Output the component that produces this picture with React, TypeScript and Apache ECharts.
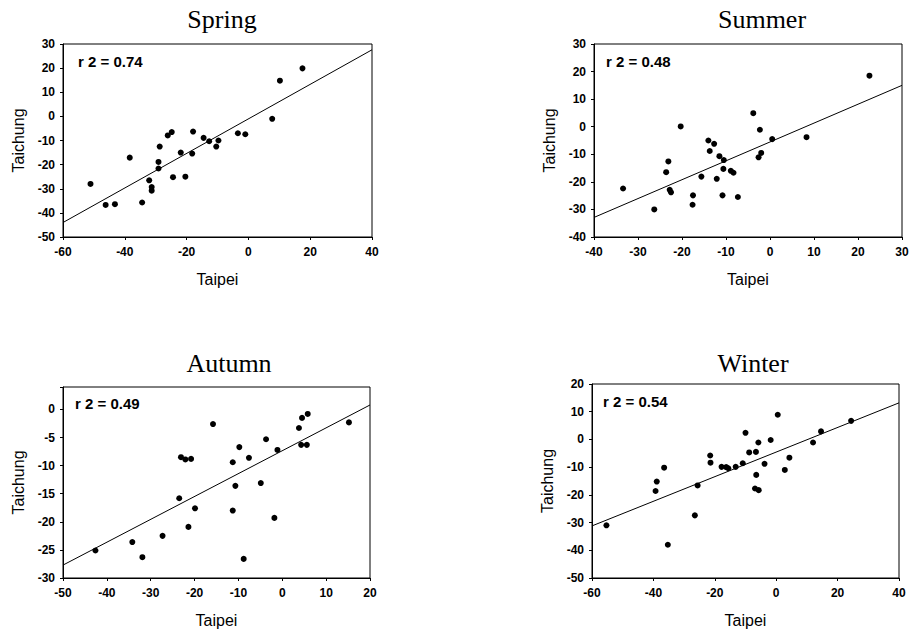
import React, { useEffect, useRef } from "react";
import * as echarts from "echarts";

// ---- Data ----
const springTaipei = [-51.1, -46.2, -43.2, -38.4, -34.4, -32.1, -31.3, -31.3, -29.1, -29.1, -28.7, -26.1, -24.8, -24.4, -21.9, -20.4, -18.2, -17.9, -14.5, -12.7, -10.4, -9.7, -3.4, -1.0, 7.7, 10.2, 17.5];
const springTaichung = [-28.0, -36.7, -36.4, -17.1, -35.7, -26.5, -29.3, -30.8, -18.9, -21.6, -12.5, -7.9, -6.5, -25.2, -15.0, -25.0, -15.4, -6.3, -8.9, -10.3, -12.5, -10.0, -7.0, -7.4, -1.0, 14.8, 19.9];
const springFitX = [-60, 40];
const springFitY = [-44.0, 27.6];

const summerTaipei = [-33.4, -26.3, -23.6, -23.1, -22.8, -22.5, -20.3, -17.5, -17.6, -15.6, -14.0, -13.7, -12.7, -12.1, -11.5, -10.5, -10.6, -10.8, -8.9, -8.3, -7.3, -3.8, -2.3, -2.6, -2.0, 0.5, 8.3, 22.6];
const summerTaichung = [-22.4, -30.0, -16.5, -12.6, -22.9, -23.8, 0.1, -24.9, -28.3, -18.1, -5.0, -8.8, -6.2, -18.9, -10.7, -12.1, -15.3, -24.9, -16.0, -16.7, -25.5, 4.9, -1.1, -11.1, -9.5, -4.5, -3.8, 18.5];
const summerFitX = [-40, 30];
const summerFitY = [-32.9, 15.0];

const autumnTaipei = [-42.6, -34.2, -31.9, -27.3, -23.5, -23.1, -22.1, -20.8, -21.4, -19.9, -15.8, -11.3, -11.3, -10.7, -9.8, -8.8, -7.6, -4.9, -3.7, -1.8, -1.1, 3.8, 4.5, 4.3, 5.8, 5.6, 15.2];
const autumnTaichung = [-25.1, -23.6, -26.3, -22.5, -15.8, -8.5, -8.9, -8.8, -20.9, -17.6, -2.6, -9.4, -18.0, -13.6, -6.7, -26.6, -8.6, -13.1, -5.3, -19.3, -7.2, -3.3, -1.5, -6.3, -0.8, -6.3, -2.3];
const autumnFitX = [-50, 20];
const autumnFitY = [-27.7, 0.8];

const winterTaipei = [-55.3, -39.3, -38.9, -36.5, -35.3, -26.5, -25.6, -21.5, -21.4, -17.8, -16.3, -15.6, -13.2, -10.9, -10.0, -8.8, -6.6, -5.8, -6.5, -6.9, -5.7, -3.8, -1.8, 0.5, 2.8, 4.3, 12.0, 14.6, 24.4];
const winterTaichung = [-31.0, -18.6, -15.2, -10.2, -38.0, -27.4, -16.6, -5.8, -8.4, -9.9, -10.0, -10.4, -9.9, -8.6, 2.4, -4.7, -4.5, -1.1, -12.8, -17.7, -18.3, -8.8, -0.2, 8.9, -11.0, -6.6, -1.1, 2.9, 6.7];
const winterFitX = [-60, 40];
const winterFitY = [-31.2, 13.2];

const seasonTitles = ["Spring", "Summer", "Autumn", "Winter"];
const r2Labels = ["r 2 = 0.74", "r 2 = 0.48", "r 2 = 0.49", "r 2 = 0.54"];
const xName = "Taipei";
const yName = "Taichung";

const panels = [
  { x: springTaipei, y: springTaichung, fx: springFitX, fy: springFitY, xMin: -60, xMax: 40, xInt: 20, yMin: -50, yMax: 30, yInt: 10,
    grid: { left: 63, top: 44, width: 309, height: 193 }, titleX: 217, titleY: 1, r2X: 78, r2Y: 63 },
  { x: summerTaipei, y: summerTaichung, fx: summerFitX, fy: summerFitY, xMin: -40, xMax: 30, xInt: 10, yMin: -40, yMax: 30, yInt: 10,
    grid: { left: 594, top: 44, width: 308, height: 193 }, titleX: 757, titleY: 1, r2X: 606, r2Y: 63 },
  { x: autumnTaipei, y: autumnTaichung, fx: autumnFitX, fy: autumnFitY, xMin: -50, xMax: 20, xInt: 10, yMin: -30, yMax: 4, yInt: 5,
    grid: { left: 63, top: 387, width: 307, height: 191 }, titleX: 224, titleY: 345, r2X: 75, r2Y: 405 },
  { x: winterTaipei, y: winterTaichung, fx: winterFitX, fy: winterFitY, xMin: -60, xMax: 40, xInt: 20, yMin: -50, yMax: 20, yInt: 10,
    grid: { left: 592, top: 384, width: 307, height: 194 }, titleX: 748, titleY: 345, r2X: 603, r2Y: 403 },
];

const sans = "'Liberation Sans', Arial, sans-serif";

export default function App() {
  const ref = useRef<HTMLDivElement>(null);
  useEffect(() => {
    if (!ref.current) return;
    const chart = echarts.init(ref.current, undefined, { renderer: "svg" });
    const grids: any[] = [];
    const xAxes: any[] = [];
    const yAxes: any[] = [];
    const series: any[] = [];
    const titles: any[] = [];
    const graphics: any[] = [];
    panels.forEach((p, i) => {
      grids.push({ ...p.grid, show: true, borderColor: "#000", borderWidth: 1, backgroundColor: "transparent" });
      const axisCommon = {
        gridIndex: i,
        type: "value",
        nameLocation: "middle",
        nameTextStyle: { fontFamily: sans, fontSize: 16, color: "#000" },
        axisLine: { show: true, onZero: false, lineStyle: { color: "#000", width: 1 } },
        axisTick: { show: true, length: 3, lineStyle: { color: "#000" } },
        splitLine: { show: false },
      };
      xAxes.push({
        ...axisCommon,
        min: p.xMin, max: p.xMax, interval: p.xInt,
        name: xName, nameGap: 34,
        axisLabel: { fontFamily: sans, fontSize: 12, fontWeight: "bold", color: "#000", margin: 9 },
      });
      const yInt = p.yInt;
      yAxes.push({
        ...axisCommon,
        min: p.yMin, max: p.yMax, interval: p.yInt,
        name: yName, nameGap: 37,
        axisLabel: {
          fontFamily: sans, fontSize: 12, fontWeight: "bold", color: "#000", margin: 8,
          formatter: (v: number) => (Math.round(v) % yInt === 0 ? String(v) : ""),
        },
      });
      series.push({
        type: "scatter", xAxisIndex: i, yAxisIndex: i,
        data: p.x.map((xv, k) => [xv, p.y[k]]),
        symbol: "circle", symbolSize: 6,
        itemStyle: { color: "#000", opacity: 1 },
      });
      series.push({
        type: "line", xAxisIndex: i, yAxisIndex: i,
        data: p.fx.map((xv, k) => [xv, p.fy[k]]),
        showSymbol: false, symbol: "none",
        lineStyle: { color: "#000", width: 1 },
      });
      titles.push({
        text: seasonTitles[i], left: p.titleX, top: p.titleY, textAlign: "center",
        textStyle: { fontFamily: "'Liberation Serif', 'Times New Roman', serif", fontSize: 26, fontWeight: "normal", color: "#000" },
      });
      graphics.push({
        type: "text", left: p.r2X, top: p.r2Y - 9,
        style: { text: r2Labels[i], font: `bold 15px ${sans}`, fill: "#000" },
      });
    });
    chart.setOption({
      animation: false,
      backgroundColor: "#fff",
      title: titles,
      grid: grids,
      xAxis: xAxes,
      yAxis: yAxes,
      series,
      graphic: graphics,
    });
    return () => chart.dispose();
  }, []);
  return <div ref={ref} style={{ position: "fixed", left: 0, top: 0, width: 913, height: 637, background: "#fff" }} />;
}
